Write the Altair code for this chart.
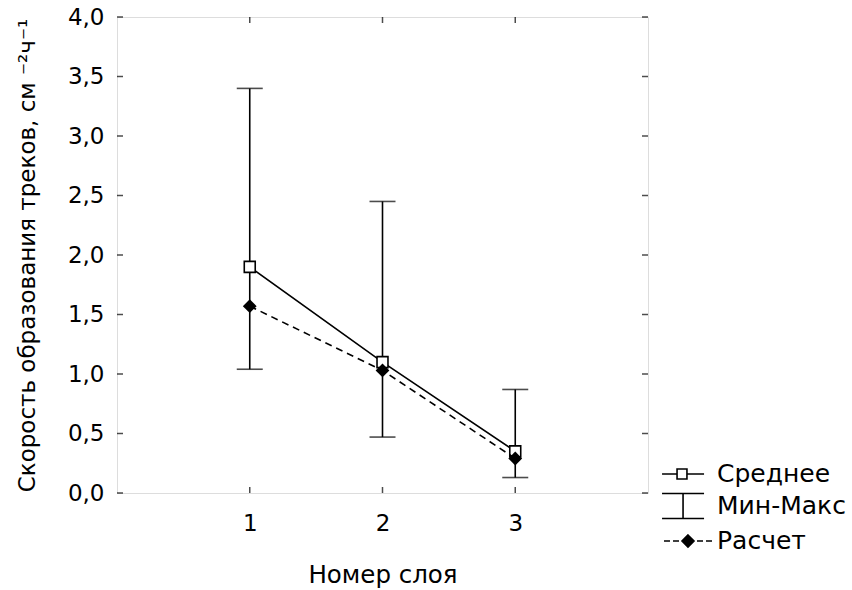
import altair as alt
import pandas as pd

# ---- data ----
layers = [1, 2, 3]
mean_vals = [1.90, 1.10, 0.35]
calc_vals = [1.57, 1.03, 0.29]
min_vals = [1.04, 0.47, 0.13]
max_vals = [3.40, 2.45, 0.87]

y_tick_values = [0.0, 0.5, 1.0, 1.5, 2.0, 2.5, 3.0, 3.5, 4.0]
x_tick_values = [1, 2, 3]
legend_names = ["Среднее", "Мин-Макс", "Расчет"]

x_title = "Номер слоя"
y_title = "Скорость образования треков, см ⁻²ч⁻¹"

FONT = "DejaVu Sans"
FS = 23

df = pd.DataFrame({"layer": layers, "mean": mean_vals, "calc": calc_vals,
                   "lo": min_vals, "hi": max_vals})
yt = pd.DataFrame({"v": y_tick_values})
xt = pd.DataFrame({"v": x_tick_values})
leg = pd.DataFrame({"name": legend_names})

xs = alt.Scale(domain=[0, 4], nice=False, zero=False)
ys = alt.Scale(domain=[0, 4], nice=False, zero=False)

x_axis = alt.Axis(values=x_tick_values, format="d", ticks=False, domain=False, grid=False,
                  labelPadding=19, titlePadding=28, title=x_title,
                  labelFont=FONT, labelFontSize=FS, titleFont=FONT, titleFontSize=24.5,
                  titleFontWeight="normal", labelColor="black", titleColor="black")
y_axis = alt.Axis(values=y_tick_values, ticks=False, domain=False, grid=False,
                  labelExpr="replace(format(datum.value, '.1f'), '.', ',')",
                  labelPadding=13, titlePadding=28, title=y_title,
                  labelFont=FONT, labelFontSize=FS, titleFont=FONT, titleFontSize=FS,
                  titleFontWeight="normal", labelColor="black", titleColor="black")

base = alt.Chart(df)
X = alt.X("layer:Q", scale=xs, axis=x_axis)

err = base.mark_rule(color="black", strokeWidth=1.6).encode(
    x=X, y=alt.Y("lo:Q", scale=ys, axis=y_axis), y2="hi:Q")
cap_lo = base.mark_tick(orient="horizontal", size=26, thickness=1.6, color="black").encode(
    x=alt.X("layer:Q", scale=xs), y=alt.Y("lo:Q", scale=ys))
cap_hi = base.mark_tick(orient="horizontal", size=26, thickness=1.6, color="black").encode(
    x=alt.X("layer:Q", scale=xs), y=alt.Y("hi:Q", scale=ys))

mean_line = base.mark_line(color="black", strokeWidth=1.6).encode(
    x=alt.X("layer:Q", scale=xs), y=alt.Y("mean:Q", scale=ys))
mean_pts = base.mark_point(shape="square", filled=True, fill="white", stroke="black",
                           strokeWidth=1.6, size=120, opacity=1).encode(
    x=alt.X("layer:Q", scale=xs), y=alt.Y("mean:Q", scale=ys))

calc_line = base.mark_line(color="black", strokeWidth=1.6, strokeDash=[7, 5]).encode(
    x=alt.X("layer:Q", scale=xs), y=alt.Y("calc:Q", scale=ys))
calc_pts = base.mark_point(shape="diamond", filled=True, color="black", size=190,
                           opacity=1).encode(
    x=alt.X("layer:Q", scale=xs), y=alt.Y("calc:Q", scale=ys))

# inward ticks on all four sides of the frame
tick_l = alt.Chart(yt).mark_tick(orient="horizontal", size=6, thickness=1.5,
                                 color="black", xOffset=3).encode(
    x=alt.datum(0, scale=xs), y=alt.Y("v:Q", scale=ys))
tick_r = alt.Chart(yt).mark_tick(orient="horizontal", size=6, thickness=1.5,
                                 color="black", xOffset=-3).encode(
    x=alt.datum(4, scale=xs), y=alt.Y("v:Q", scale=ys))
tick_b = alt.Chart(xt).mark_tick(orient="vertical", size=6, thickness=1.5,
                                 color="black", yOffset=-3).encode(
    x=alt.X("v:Q", scale=xs), y=alt.datum(0, scale=ys))
tick_t = alt.Chart(xt).mark_tick(orient="vertical", size=6, thickness=1.5,
                                 color="black", yOffset=3).encode(
    x=alt.X("v:Q", scale=xs), y=alt.datum(4, scale=ys))

# legend (custom symbols)
sym_mean = "M-1.33,0H-0.33M0.33,0H1.47M-0.33,-0.33H0.33V0.33H-0.33Z"
sym_err = "M-1.33,-0.83H1.47M0.07,-0.83V0.83M-1.33,0.83H1.47"
sym_calc = ("M-1.2,0H-0.8M-0.6,0H-0.2M1.0,0H1.4M1.6,0H2.0"
            "M0.4,-0.4L0.8,0L0.4,0.4L0,0Z")
leg_def = alt.Legend(orient="none", legendX=549, legendY=441, title=None,
                     symbolSize=900, symbolStrokeWidth=1.6, symbolStrokeColor="black",
                     labelFont=FONT, labelFontSize=25, labelColor="black",
                     labelOffset=19, rowPadding=3, padding=0)
legend_layer = alt.Chart(leg).transform_filter("datum.name == 'none'").mark_point(
    strokeWidth=1.6, opacity=1).encode(
    x=alt.datum(2, scale=xs), y=alt.datum(2, scale=ys),
    shape=alt.Shape("name:N", scale=alt.Scale(domain=legend_names,
                                              range=[sym_mean, sym_err, sym_calc]),
                    legend=leg_def),
    fill=alt.Fill("name:N", scale=alt.Scale(domain=legend_names,
                                            range=["white", "white", "black"]),
                  legend=leg_def),
    stroke=alt.Stroke("name:N", scale=alt.Scale(domain=legend_names,
                                                range=["black", "black", "black"]),
                      legend=leg_def),
)

chart = alt.layer(err, cap_lo, cap_hi, mean_line, mean_pts, calc_line, calc_pts,
                  tick_l, tick_r, tick_b, tick_t, legend_layer).properties(
    width=531, height=476,
    autosize=alt.AutoSizeParams(type="none"),
    padding={"left": 117, "top": 17, "right": 204, "bottom": 97},
).configure_view(stroke="black", strokeWidth=2).configure(background="white")

chart.save("out.html", embed_options={"renderer": "svg", "actions": False})
